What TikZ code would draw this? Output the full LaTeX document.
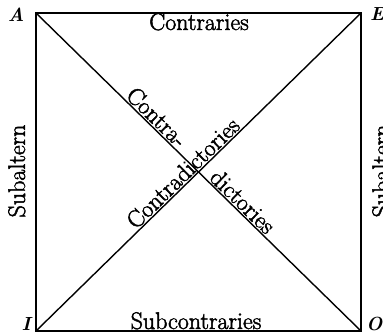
\documentclass[tikz,border=0pt]{standalone}
\usepackage{fontspec}
\newfontfamily\heavyfont{Latin Modern Roman}[FakeBold=2]
\begin{document}
\begin{tikzpicture}[x=1pt,y=1pt,
  edge/.style={line width=1.4pt,line cap=round},
  lbl/.style={font=\heavyfont\fontsize{24}{28}\selectfont,inner sep=0pt},
  dlbl/.style={font=\heavyfont\fontsize{24}{28}\selectfont,inner sep=1pt,sloped,above},
  corner/.style={font=\fontsize{19}{22}\selectfont\bfseries\itshape,inner sep=0pt}]
\useasboundingbox (0,0) rectangle (383,335);
\coordinate (A) at (36,322);
\coordinate (E) at (361,322);
\coordinate (I) at (36,4);
\coordinate (O) at (361,4);
\draw[edge] (A) -- (E) -- (O) -- (I) -- cycle;
\draw[edge] (A) -- (O) node[dlbl,pos=0.35] (c1) {Contra-} node[dlbl,pos=0.615] (c2) {dictories};
\draw[edge] (I) -- (E) node[dlbl,pos=0.474] (c3) {Contradictories};
\node[lbl,anchor=base] (ctr) at (199,305) {Contraries};
\node[lbl,anchor=base] (sub) at (196,6) {Subcontraries};
\node[lbl,anchor=base,rotate=90] (sl) at (25,164) {Subaltern};
\node[lbl,anchor=base,rotate=90] (sr) at (389,164) {Subaltern};
\node[corner,anchor=base] (la) at (16,313) {A};
\node[corner,anchor=base west] (le) at (370,314) {E};
\node[corner,anchor=base] (li) at (26,5) {I};
\node[corner,anchor=base west] (lo) at (366,5) {O};
\end{tikzpicture}
\end{document}
